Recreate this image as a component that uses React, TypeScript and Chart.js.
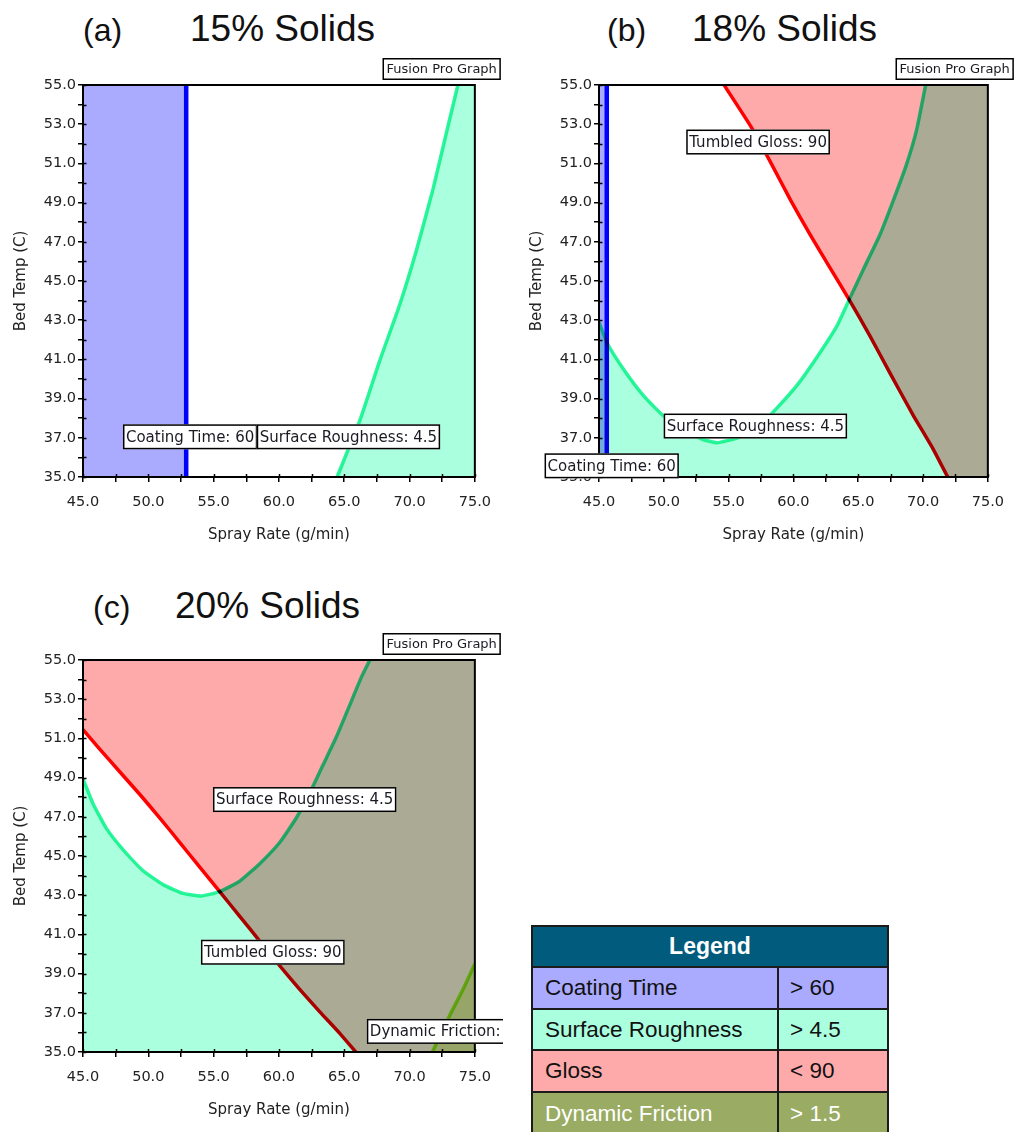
import React, { useEffect, useRef } from "react";
import { Chart, registerables } from "chart.js";

Chart.register(...registerables);

type Pt = [number, number];

// ---- axes ----
const X_MIN = 45;
const X_MAX = 75;
const Y_MIN = 35;
const Y_MAX = 55;
const X_STEP = 2.5;
const Y_STEP = 1;
const X_LABEL_EVERY = 5;
const Y_LABEL_EVERY = 2;
const X_TITLE = "Spray Rate (g/min)";
const Y_TITLE = "Bed Temp (C)";

// ---- (a) 15% solids ----
const coatingA: Pt[] = [[52.9, 35], [52.9, 55]];
const roughnessA: Pt[] = [
  [64.45, 35], [66.2, 37.9], [67.7, 40.9], [69.25, 43.8], [70.5, 46.5], [71.8, 49.7], [72.8, 52.5], [73.7, 55],
];

// ---- (b) 18% solids ----
const coatingB: Pt[] = [[45.6, 35], [45.6, 55]];
const glossB: Pt[] = [
  [54.65, 55], [56.7, 52.9], [58.2, 51.1], [59.8, 49.1], [61.3, 47.35], [62.8, 45.7], [64.3, 44.05],
  [65.9, 42.2], [67.45, 40.3], [69.2, 38.2], [70.8, 36.4], [71.9, 35],
];
const roughnessB: Pt[] = [
  [45, 42.9], [45.7, 41.75], [47.0, 40.4], [48.5, 39.1], [50.0, 38.1], [51.6, 37.35], [53.1, 36.9],
  [54.1, 36.75], [55.7, 37.0], [57.2, 37.5], [58.7, 38.5], [60.3, 39.7], [61.8, 41.1], [63.35, 42.7],
  [64.3, 44.05], [65.4, 45.6], [66.7, 47.4], [67.7, 49.1], [68.7, 50.9], [69.5, 52.7], [70.2, 55],
];

// ---- (c) 20% solids ----
const glossC: Pt[] = [
  [45, 51.45], [46.28, 50.45], [47.81, 49.3], [49.34, 48.15], [50.87, 46.95], [52.4, 45.7],
  [53.94, 44.43], [55.47, 43.18], [57.0, 41.92], [58.53, 40.66], [60.06, 39.4], [61.59, 38.2],
  [63.13, 37.05], [64.66, 35.95], [65.88, 35],
];
const roughnessC: Pt[] = [
  [45, 48.93], [45.77, 47.67], [46.79, 46.41], [48.06, 45.33], [49.6, 44.25], [51.13, 43.54],
  [52.66, 43.09], [54.06, 42.96], [55.47, 43.18], [57.0, 43.72], [58.53, 44.61], [60.06, 45.69],
  [61.34, 46.95], [62.36, 48.21], [63.38, 49.65], [64.4, 51.08], [65.42, 52.7], [66.32, 54.14], [66.96, 55],
];
const frictionC: Pt[] = [[71.75, 35], [73.1, 36.9], [74.1, 38.2], [75, 39.5]];

// ---- legend ----
const legendNames = ["Coating Time", "Surface Roughness", "Gloss", "Dynamic Friction"];
const legendRules = ["> 60", "> 4.5", "< 90", "> 1.5"];

// ---- styles ----
const COL = {
  coatFill: "#aaaaff",
  coatLine: "#0000ff",
  roughFill: "#aaffdf",
  roughLine: "#2cf5a2",
  glossFill: "#ffaaaa",
  glossLine: "#ff0000",
  fricFill: "#e4f7b4",
  fricLine: "#96f51c",
};
const LEGEND_BG = ["#aaaaff", "#aaffdf", "#ffaaaa", "#9aab64"];
const LEGEND_FG = ["#111", "#111", "#111", "#ffffff"];

const FONT = "DejaVu Sans";
const BOX_FONT = `15px "${FONT}"`;
const AXIS_TEXT = "#222";

const xy = (pts: Pt[]) => pts.map(([x, y]) => ({ x, y }));

const region = (pts: Pt[], color: string) => ({
  data: xy(pts),
  borderColor: "transparent",
  borderWidth: 0,
  backgroundColor: color,
  fill: "shape",
  pointRadius: 0,
  tension: 0,
  clip: 0,
});

const curve = (pts: Pt[], color: string, width: number) => ({
  data: xy(pts),
  borderColor: color,
  borderWidth: width,
  backgroundColor: color,
  fill: false,
  pointRadius: 0,
  tension: 0.15,
  clip: 0,
  borderJoinStyle: "round",
});

const lowerLeft: Pt = [X_MIN, Y_MIN];
const upperLeft: Pt = [X_MIN, Y_MAX];
const lowerRight: Pt = [X_MAX, Y_MIN];
const upperRight: Pt = [X_MAX, Y_MAX];

type BoxLabel = { text: string; x: number; y: number; open?: boolean };

type PanelCfg = {
  left: number;
  top: number;
  w: number;
  h: number;
  padR: number;
  datasets: any[];
  labels: BoxLabel[];
};

const panelA: PanelCfg = {
  left: 0, top: 50, w: 503, h: 507, padR: 28,
  datasets: [
    region([lowerLeft, upperLeft, ...[...coatingA].reverse()], COL.coatFill),
    region([...roughnessA, upperRight, lowerRight], COL.roughFill),
    curve(coatingA, COL.coatLine, 4.5),
    curve(roughnessA, COL.roughLine, 3.5),
  ],
  labels: [
    { text: "Coating Time: 60", x: 48.06, y: 37.05 },
    { text: "Surface Roughness: 4.5", x: 58.3, y: 37.05 },
  ],
};

const panelB: PanelCfg = {
  left: 516, top: 50, w: 500, h: 507, padR: 26,
  datasets: [
    region([lowerLeft, upperLeft, ...[...coatingB].reverse()], COL.coatFill),
    region([...roughnessB, upperRight, lowerRight, lowerLeft], COL.roughFill),
    region([...glossB, lowerRight, upperRight], COL.glossFill),
    curve(coatingB, COL.coatLine, 4.5),
    curve(roughnessB, COL.roughLine, 3.5),
    curve(glossB, COL.glossLine, 3.5),
  ],
  labels: [
    { text: "Tumbled Gloss: 90", x: 51.73, y: 52.09 },
    { text: "Surface Roughness: 4.5", x: 49.99, y: 37.6 },
    { text: "Coating Time: 60", x: 40.8, y: 35.57 },
  ],
};

const panelC: PanelCfg = {
  left: 0, top: 625, w: 503, h: 507, padR: 28,
  datasets: [
    region([...roughnessC, upperRight, lowerRight, lowerLeft], COL.roughFill),
    region([...glossC, lowerRight, upperRight, upperLeft], COL.glossFill),
    region([...frictionC, lowerRight], COL.fricFill),
    curve(roughnessC, COL.roughLine, 3.5),
    curve(glossC, COL.glossLine, 3.5),
    curve(frictionC, COL.fricLine, 3.5),
  ],
  labels: [
    { text: "Surface Roughness: 4.5", x: 54.95, y: 47.88 },
    { text: "Tumbled Gloss: 90", x: 54.03, y: 40.09 },
    { text: "Dynamic Friction:", x: 66.73, y: 36.05, open: true },
  ],
};

const isStep = (v: number, base: number, step: number) => {
  const q = (v - base) / step;
  return Math.abs(q - Math.round(q)) < 1e-6;
};

const multiplyPlugin = {
  id: "multiplyBlend",
  beforeDatasetsDraw(chart: any) {
    chart.ctx.save();
    chart.ctx.globalCompositeOperation = "multiply";
  },
  afterDatasetsDraw(chart: any) {
    chart.ctx.restore();
  },
};

function makeDecorPlugin(labels: BoxLabel[]) {
  return {
    id: "decor",
    afterDraw(chart: any) {
      const { ctx, chartArea: a, scales } = chart;
      const xs = scales.x;
      const ys = scales.y;
      ctx.save();
      // frame
      ctx.strokeStyle = "#000";
      ctx.lineWidth = 2;
      ctx.strokeRect(a.left, a.top, a.right - a.left, a.bottom - a.top);
      // inner tick marks
      ctx.lineWidth = 1.5;
      ctx.beginPath();
      xs.ticks.forEach((t: any) => {
        const px = Math.round(xs.getPixelForValue(t.value)) + 0.5;
        ctx.moveTo(px, a.bottom);
        ctx.lineTo(px, a.bottom - 3);
      });
      ys.ticks.forEach((t: any) => {
        const py = Math.round(ys.getPixelForValue(t.value)) + 0.5;
        ctx.moveTo(a.left, py);
        ctx.lineTo(a.left + 3.5, py);
      });
      ctx.stroke();

      const drawBox = (text: string, x: number, yc: number, font: string, h: number, pad: number, open?: boolean) => {
        ctx.font = font;
        const tw = ctx.measureText(text).width;
        const w = open ? tw + 200 : tw + pad * 2;
        const y = yc - h / 2;
        ctx.fillStyle = "#ffffff";
        ctx.fillRect(x, y, w, h);
        ctx.strokeStyle = "#000";
        ctx.lineWidth = 1.5;
        ctx.strokeRect(x + 0.75, y + 0.75, w - 1.5, h - 1.5);
        ctx.fillStyle = "#1a1a22";
        ctx.textAlign = "left";
        ctx.textBaseline = "middle";
        ctx.fillText(text, x + pad, yc + 1);
      };

      // program tag box above plot
      ctx.font = `13px "${FONT}"`;
      const tagW = ctx.measureText("Fusion Pro Graph").width + 8;
      drawBox("Fusion Pro Graph", a.right + 26 - tagW, a.top - 16, `13px "${FONT}"`, 22, 4);

      labels.forEach((l) => {
        drawBox(l.text, xs.getPixelForValue(l.x), ys.getPixelForValue(l.y), BOX_FONT, 25, 3, l.open);
      });
      ctx.restore();
    },
  };
}

function Panel({ cfg }: { cfg: PanelCfg }) {
  const ref = useRef<HTMLCanvasElement | null>(null);
  useEffect(() => {
    const canvas = ref.current;
    if (!canvas) return;
    const tickFont = { family: FONT, size: 14.5 };
    const titleFont = { family: FONT, size: 15 };
    const chart = new Chart(canvas, {
      type: "line",
      data: { datasets: cfg.datasets as any },
      options: {
        animation: false,
        responsive: false,
        devicePixelRatio: 1,
        events: [],
        layout: { padding: { left: 0, right: cfg.padR, top: 35, bottom: 0 } },
        plugins: {
          legend: { display: false },
          tooltip: { enabled: false },
          title: { display: false },
        },
        scales: {
          x: {
            type: "linear",
            min: X_MIN,
            max: X_MAX,
            afterFit: (s: any) => {
              s.height = 80;
            },
            ticks: {
              stepSize: X_STEP,
              autoSkip: false,
              maxRotation: 0,
              padding: 12,
              color: AXIS_TEXT,
              font: tickFont,
              callback: (v: any) => (isStep(Number(v), X_MIN, X_LABEL_EVERY) ? Number(v).toFixed(1) : ""),
            },
            grid: { drawOnChartArea: false, drawTicks: true, tickLength: 5, color: "#000", lineWidth: 1.5 },
            border: { display: true, color: "#000", width: 2 },
            title: { display: true, text: X_TITLE, color: AXIS_TEXT, font: titleFont, padding: { top: 0, bottom: 13 } },
          },
          y: {
            type: "linear",
            min: Y_MIN,
            max: Y_MAX,
            afterFit: (s: any) => {
              s.width = 83;
            },
            ticks: {
              stepSize: Y_STEP,
              autoSkip: false,
              padding: 2,
              color: AXIS_TEXT,
              font: tickFont,
              callback: (v: any) => (isStep(Number(v), Y_MIN, Y_LABEL_EVERY) ? Number(v).toFixed(1) : ""),
            },
            grid: { drawOnChartArea: false, drawTicks: true, tickLength: 5, color: "#000", lineWidth: 1.5 },
            border: { display: true, color: "#000", width: 2 },
            title: { display: true, text: Y_TITLE, color: AXIS_TEXT, font: titleFont, padding: { top: 12.5, bottom: 0 } },
          },
        },
      } as any,
      plugins: [multiplyPlugin as any, makeDecorPlugin(cfg.labels) as any],
    });
    return () => chart.destroy();
  }, [cfg]);
  return (
    <canvas
      ref={ref}
      width={cfg.w}
      height={cfg.h}
      style={{ position: "absolute", left: cfg.left, top: cfg.top, width: cfg.w, height: cfg.h }}
    />
  );
}

const titleStyle = (left: number, top: number, size: number): React.CSSProperties => ({
  position: "absolute",
  left,
  top,
  fontFamily: '"Liberation Sans", Arial, sans-serif',
  fontSize: size,
  lineHeight: `${size}px`,
  color: "#111",
  whiteSpace: "nowrap",
});

function LegendTable() {
  const rows = [39, 40, 39, 40, 42];
  return (
    <div
      style={{
        position: "absolute",
        left: 531,
        top: 925,
        width: 358,
        padding: 2,
        boxSizing: "border-box",
        background: "#1b1b1b",
        display: "grid",
        gridTemplateColumns: "244px 108px",
        gridTemplateRows: rows.map((r) => `${r}px`).join(" "),
        gap: 2,
        fontFamily: '"Liberation Sans", Arial, sans-serif',
      }}
    >
      <div
        style={{
          gridColumn: "1 / span 2",
          background: "#005b7d",
          color: "#fff",
          fontWeight: "bold",
          fontSize: 23,
          display: "flex",
          alignItems: "center",
          justifyContent: "center",
        }}
      >
        Legend
      </div>
      {legendNames.map((name, i) => (
        <React.Fragment key={name}>
          <div
            style={{
              background: LEGEND_BG[i],
              color: LEGEND_FG[i],
              fontSize: 22.5,
              display: "flex",
              alignItems: "center",
              paddingLeft: 12,
            }}
          >
            {name}
          </div>
          <div
            style={{
              background: LEGEND_BG[i],
              color: LEGEND_FG[i],
              fontSize: 22.5,
              display: "flex",
              alignItems: "center",
              paddingLeft: 11,
            }}
          >
            {legendRules[i]}
          </div>
        </React.Fragment>
      ))}
    </div>
  );
}

export default function App() {
  return (
    <div
      style={{
        position: "absolute",
        left: 0,
        top: 0,
        width: 1016,
        height: 1132,
        overflow: "hidden",
        background: "#fff",
      }}
    >
      <div style={titleStyle(83, 14, 32)}>(a)</div>
      <div style={titleStyle(190, 10, 37)}>15% Solids</div>
      <div style={titleStyle(607, 14, 32)}>(b)</div>
      <div style={titleStyle(692, 10, 37)}>18% Solids</div>
      <div style={titleStyle(93, 591, 32)}>(c)</div>
      <div style={titleStyle(175, 587, 37)}>20% Solids</div>
      <Panel cfg={panelA} />
      <Panel cfg={panelB} />
      <Panel cfg={panelC} />
      <LegendTable />
    </div>
  );
}
